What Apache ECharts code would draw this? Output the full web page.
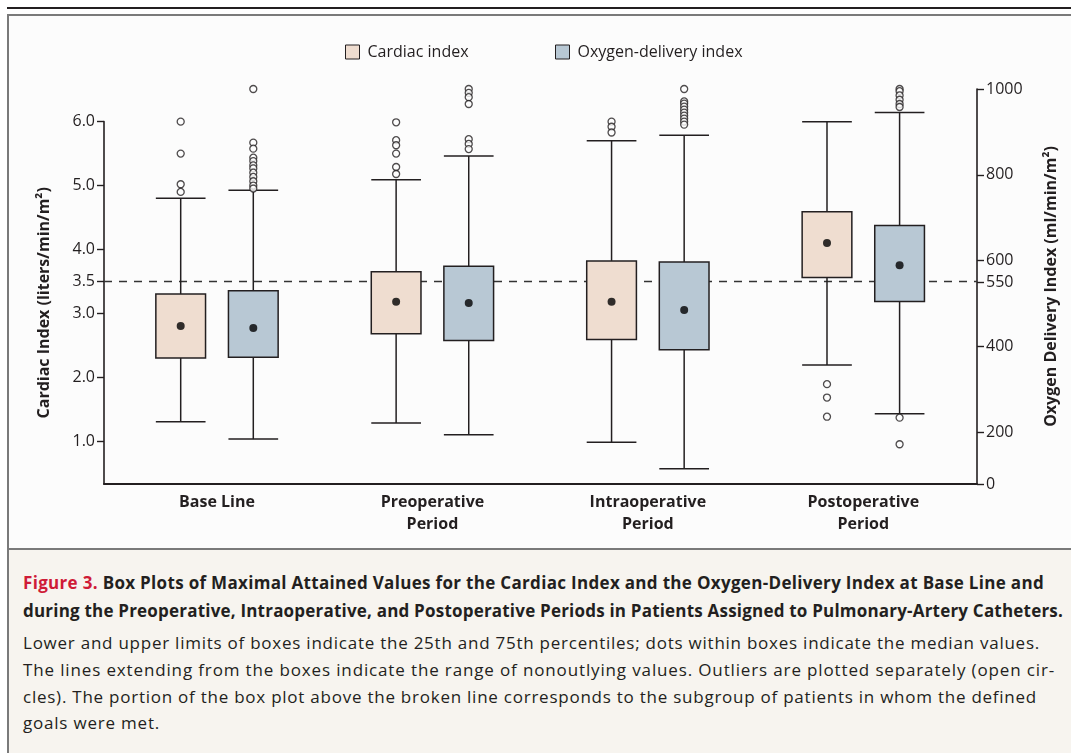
<!DOCTYPE html>
<html><head><meta charset="utf-8">
<script src="https://cdn.jsdelivr.net/npm/echarts@6/dist/echarts.min.js"></script>
<style>
html,body{margin:0;padding:0;}
body{width:1071px;height:753px;position:relative;overflow:hidden;background:#fff;font-family:"Open Sans",Lato,sans-serif;color:#231f20;}
#topline{position:absolute;left:7px;top:7px;width:1064px;height:2px;background:#231f20;}
#panel{position:absolute;left:7px;top:14px;width:1070px;border:2px solid #7a7a7a;background:#fcfcfc;box-sizing:border-box;height:536px;}
#caption{position:absolute;left:7px;top:548px;width:1070px;height:210px;border-left:2px solid #7a7a7a;border-top:2px solid #7a7a7a;background:#f7f4ef;}
#chart{position:absolute;left:0;top:0;width:1071px;height:753px;}
.cap{position:absolute;left:23px;white-space:nowrap;font-size:17px;line-height:26px;color:#231f20;}
.ttl{font-weight:700;}
.red{color:#cf1b37;}
</style>
</head><body>
<div id="topline"></div>
<div id="panel"></div>
<div id="caption"></div>
<div class="cap ttl" style="top:570px" data-w="1021"><span class="red">Figure 3.</span> Box Plots of Maximal Attained Values for the Cardiac Index and the Oxygen-Delivery Index at Base Line and</div>
<div class="cap ttl" style="top:598px" data-w="1040">during the Preoperative, Intraoperative, and Postoperative Periods in Patients Assigned to Pulmonary-Artery Catheters.</div>
<div class="cap" style="top:630px" data-w="1017">Lower and upper limits of boxes indicate the 25th and 75th percentiles; dots within boxes indicate the median values.</div>
<div class="cap" style="top:657px" data-w="1032">The lines extending from the boxes indicate the range of nonoutlying values. Outliers are plotted separately (open cir-</div>
<div class="cap" style="top:684px" data-w="1014">cles). The portion of the box plot above the broken line corresponds to the subgroup of patients in whom the defined</div>
<div class="cap" style="top:710px" data-w="137">goals were met.</div>
<div id="chart"></div>
<script>
// ---- data ----
const categories = ['Base Line', 'Preoperative\nPeriod', 'Intraoperative\nPeriod', 'Postoperative\nPeriod'];
// [lower whisker, Q1, median, Q3, upper whisker]
const cardiacBoxes = [
  [1.30, 2.30, 2.80, 3.30, 4.80],
  [1.28, 2.68, 3.18, 3.65, 5.09],
  [0.98, 2.59, 3.18, 3.82, 5.70],
  [2.19, 3.56, 4.10, 4.59, 6.00]
];
const oxygenBoxes = [
  [184, 375, 443, 530, 764],
  [194, 414, 501, 587, 844],
  [115, 392, 485, 597, 892],
  [243, 505, 589, 682, 945]
];
const cardiacOutliers = [
  [6.00, 5.50, 5.02, 4.90],
  [5.99, 5.71, 5.63, 5.50, 5.29, 5.18],
  [6.00, 5.92, 5.83],
  [1.89, 1.68, 1.38]
];
const oxygenOutliers = [
  [1000, 875, 861, 840, 832, 822, 815, 805, 795, 785, 775, 768],
  [1000, 991, 981, 965, 883, 872, 860],
  [1000, 971, 966, 959, 952, 945, 938, 931, 924, 917],
  [1000, 995, 985, 975, 965, 958, 234, 172]
];
const cardiacTicks = [1.0, 2.0, 3.0, 3.5, 4.0, 5.0, 6.0];
const oxygenTicks = [0, 200, 400, 550, 600, 800, 1000];
const cardiacGoal = 3.5;
const seriesNames = ['Cardiac index', 'Oxygen-delivery index'];

// ---- caption line fitting (letter spacing) ----
document.querySelectorAll('.cap').forEach(el => {
  const target = parseFloat(el.getAttribute('data-w'));
  const w = el.getBoundingClientRect().width;
  const n = el.textContent.length;
  el.style.letterSpacing = ((target - w) / n).toFixed(3) + 'px';
});

// ---- layout / style ----
const INK = '#231f20';
const FILL_CI = '#efddd0';
const FILL_OD = '#b8c8d4';
const CI_MIN = 0.3266, CI_TOP = 6.0, CI_MAX = 6.511;
const OD_MIN = 79.4, OD_MAX = 1000;
const X_MIN = -0.5245, X_MAX = 3.5278;
const OFFSET = 0.1685, BOX_W = 0.2307;
const GRID_L = 104, GRID_R = 94, GRID_BOTTOM = 269, GRID_TOP = 89;
const GRID_A_TOP = 484 - (CI_TOP - CI_MIN) / (CI_MAX - CI_MIN) * (484 - GRID_TOP);
const FONT = 'Open Sans';

function boxData(boxes, dx) {
  return boxes.map((b, i) => [i + dx].concat(b));
}
function outlierData(outs, dx) {
  const res = [];
  outs.forEach((arr, i) => arr.forEach(v => res.push([i + dx, v])));
  return res;
}
function medianData(boxes, dx) {
  return boxes.map((b, i) => [i + dx, b[2]]);
}
function makeRenderer(fill) {
  return function (params, api) {
    const x = api.value(0);
    const lo = api.coord([x, api.value(1)]);
    const q1 = api.coord([x, api.value(2)]);
    const q3 = api.coord([x, api.value(4)]);
    const hi = api.coord([x, api.value(5)]);
    const hw = api.size([BOX_W, 0])[0] / 2;
    const ls = { stroke: INK, lineWidth: 1.5 };
    return {
      type: 'group',
      children: [
        { type: 'line', shape: { x1: hi[0], y1: hi[1], x2: q3[0], y2: q3[1] }, style: ls },
        { type: 'line', shape: { x1: q1[0], y1: q1[1], x2: lo[0], y2: lo[1] }, style: ls },
        { type: 'line', shape: { x1: hi[0] - hw, y1: hi[1], x2: hi[0] + hw, y2: hi[1] }, style: ls },
        { type: 'line', shape: { x1: lo[0] - hw, y1: lo[1], x2: lo[0] + hw, y2: lo[1] }, style: ls },
        { type: 'rect', shape: { x: q3[0] - hw, y: q3[1], width: 2 * hw, height: q1[1] - q3[1] },
          style: { fill: fill, stroke: INK, lineWidth: 1.5 } }
      ]
    };
  };
}

const chart = echarts.init(document.getElementById('chart'), null, { renderer: 'canvas' });
const labelStyle = { color: INK, fontFamily: FONT, fontSize: 16 };
const legendCommon = { top: 39, itemWidth: 14, itemHeight: 14, selectedMode: false,
  itemStyle: { borderColor: INK, borderWidth: 1 },
  textStyle: { fontSize: 16, color: INK, fontFamily: FONT, padding: [0, 0, 0, 3] } };
const option = {
  animation: false,
  textStyle: { fontFamily: FONT, color: INK },
  legend: [
    Object.assign({ data: [{ name: seriesNames[0], icon: 'rect' }], left: 340 }, legendCommon),
    Object.assign({ data: [{ name: seriesNames[1], icon: 'rect' }], left: 550 }, legendCommon)
  ],
  grid: [
    { left: GRID_L, right: GRID_R, top: GRID_A_TOP, bottom: GRID_BOTTOM },
    { left: GRID_L, right: GRID_R, top: GRID_TOP, bottom: GRID_BOTTOM }
  ],
  xAxis: [
    { gridIndex: 0, type: 'value', min: X_MIN, max: X_MAX,
      axisLine: { show: true, onZero: false, lineStyle: { color: INK, width: 2 } },
      axisTick: { show: false }, axisLabel: { show: false }, splitLine: { show: false } },
    { gridIndex: 1, type: 'value', min: X_MIN, max: X_MAX,
      axisLine: { show: false, onZero: false }, axisTick: { show: false }, splitLine: { show: false },
      axisLabel: { show: true, customValues: categories.map((c, i) => i), margin: 7,
        formatter: v => categories[Math.round(v)],
        fontWeight: 'bold', fontSize: 16, lineHeight: 22, color: INK, fontFamily: FONT } }
  ],
  yAxis: [
    { gridIndex: 0, type: 'value', position: 'left', min: CI_MIN, max: CI_TOP,
      name: 'Cardiac Index (liters/min/m\u00B2)', nameLocation: 'middle', nameRotate: 90, nameGap: 52,
      nameTextStyle: { fontWeight: 'bold', fontSize: 16, color: INK, fontFamily: FONT },
      axisLine: { show: true, onZero: false, lineStyle: { color: INK, width: 1.6 } },
      axisTick: { show: true, inside: false, length: 7, customValues: cardiacTicks, lineStyle: { color: INK, width: 1.4 } },
      axisLabel: Object.assign({ customValues: cardiacTicks, margin: 9, formatter: v => v.toFixed(1) }, labelStyle),
      splitLine: { show: false } },
    { gridIndex: 1, type: 'value', position: 'left', min: CI_MIN, max: CI_MAX, show: false,
      axisLine: { onZero: false }, splitLine: { show: false } },
    { gridIndex: 1, type: 'value', position: 'right', min: OD_MIN, max: OD_MAX,
      name: 'Oxygen Delivery Index (ml/min/m\u00B2)', nameLocation: 'middle', nameRotate: 90, nameGap: 66,
      nameTextStyle: { fontWeight: 'bold', fontSize: 16, color: INK, fontFamily: FONT },
      axisLine: { show: true, onZero: false, lineStyle: { color: INK, width: 1.6 } },
      axisTick: { show: true, inside: false, length: 7, customValues: oxygenTicks.map(t => Math.max(t, OD_MIN)),
        lineStyle: { color: INK, width: 1.4 } },
      axisLabel: Object.assign({ customValues: oxygenTicks.map(t => Math.max(t, OD_MIN)), margin: 9,
        formatter: v => { const t = oxygenTicks.find(tt => Math.max(tt, OD_MIN) === v); return t === undefined ? '' : String(t); } }, labelStyle),
      splitLine: { show: false } }
  ],
  series: [
    { name: seriesNames[0], type: 'custom', xAxisIndex: 1, yAxisIndex: 1, z: 3,
      itemStyle: { color: FILL_CI }, renderItem: makeRenderer(FILL_CI),
      encode: { x: 0, y: [1, 2, 3, 4, 5] }, data: boxData(cardiacBoxes, -OFFSET) },
    { name: seriesNames[1], type: 'custom', xAxisIndex: 1, yAxisIndex: 2, z: 3,
      itemStyle: { color: FILL_OD }, renderItem: makeRenderer(FILL_OD),
      encode: { x: 0, y: [1, 2, 3, 4, 5] }, data: boxData(oxygenBoxes, OFFSET) },
    { name: 'ci-median', type: 'scatter', xAxisIndex: 1, yAxisIndex: 1, z: 4, symbol: 'circle', symbolSize: 8,
      itemStyle: { color: '#000' }, data: medianData(cardiacBoxes, -OFFSET), silent: true },
    { name: 'od-median', type: 'scatter', xAxisIndex: 1, yAxisIndex: 2, z: 4, symbol: 'circle', symbolSize: 8,
      itemStyle: { color: '#000' }, data: medianData(oxygenBoxes, OFFSET), silent: true },
    { name: 'ci-out', type: 'scatter', xAxisIndex: 1, yAxisIndex: 1, z: 4, symbol: 'circle', symbolSize: 7,
      itemStyle: { color: '#fcfcfc', borderColor: INK, borderWidth: 1.3 }, data: outlierData(cardiacOutliers, -OFFSET), silent: true,
      markLine: { z: 1, silent: true, symbol: ['none', 'none'], label: { show: false },
        lineStyle: { type: [8, 7], color: '#333', width: 1.4 }, data: [{ yAxis: cardiacGoal }] } },
    { name: 'od-out', type: 'scatter', xAxisIndex: 1, yAxisIndex: 2, z: 4, symbol: 'circle', symbolSize: 7,
      itemStyle: { color: '#fcfcfc', borderColor: INK, borderWidth: 1.3 }, data: outlierData(oxygenOutliers, OFFSET), silent: true }
  ]
};
chart.setOption(option);
</script>
</body></html>
